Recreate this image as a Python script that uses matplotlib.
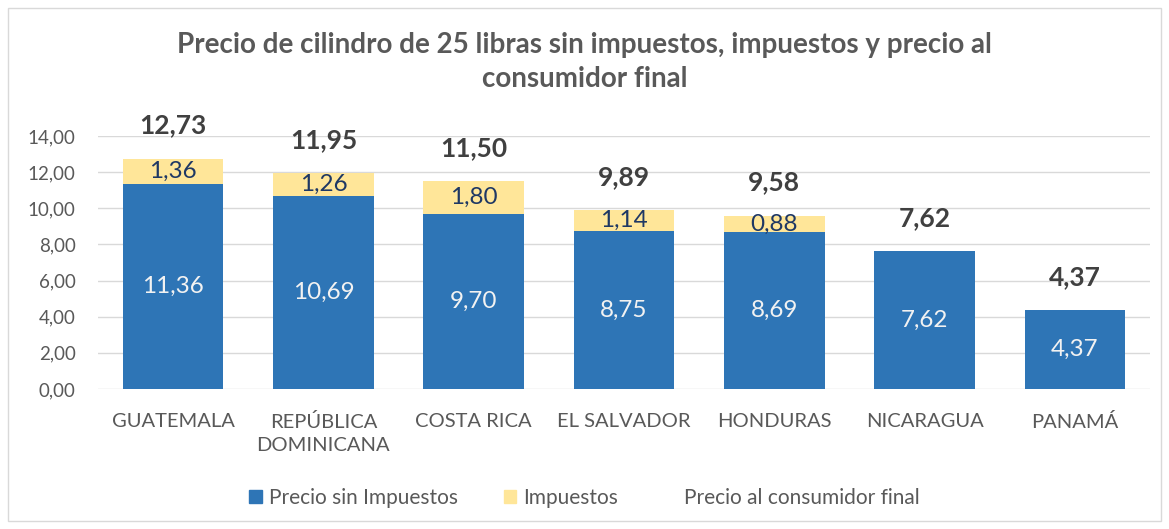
import numpy as np
import matplotlib.pyplot as plt
from matplotlib.patches import Patch, Rectangle

# chart data
countries = ["GUATEMALA", "REPÚBLICA\nDOMINICANA", "COSTA RICA", "EL SALVADOR",
             "HONDURAS", "NICARAGUA", "PANAMÁ"]
sin_impuestos = [11.36, 10.69, 9.70, 8.75, 8.69, 7.62, 4.37]
impuestos = [1.36, 1.26, 1.80, 1.14, 0.88, 0.0, 0.0]
precio_final = [12.73, 11.95, 11.50, 9.89, 9.58, 7.62, 4.37]
y_ticks = [0, 2, 4, 6, 8, 10, 12, 14]

BLUE = "#2E75B6"
YELLOW = "#FFE699"
GREY = "#595959"


def fmt(v):
    return f"{v:.2f}".replace(".", ",")


def main():
    plt.rcParams["font.family"] = ["Lato", "DejaVu Sans"]
    fig = plt.figure(figsize=(11.69, 5.29), dpi=100)
    fig.patches.append(Rectangle((0.007, 0.015), 0.986, 0.97, transform=fig.transFigure,
                                 fill=False, edgecolor="#D9D9D9", linewidth=1))
    ax = fig.add_axes([98 / 1169, 1 - 389 / 529, (1150 - 98) / 1169, (389 - 136) / 529])

    x = np.arange(len(countries))
    w = 0.67
    ax.bar(x, sin_impuestos, w, color=BLUE, zorder=2)
    ax.bar(x, impuestos, w, bottom=sin_impuestos, color=YELLOW, zorder=2)

    for i in range(len(x)):
        ax.text(x[i], sin_impuestos[i] / 2, fmt(sin_impuestos[i]), ha="center",
                va="center", color="#F2F2F2", fontsize=17.5)
        if impuestos[i] > 0:
            ax.text(x[i], sin_impuestos[i] + impuestos[i] / 2, fmt(impuestos[i]),
                    ha="center", va="center", color="#1F3864", fontsize=17.5)
        ax.annotate(fmt(precio_final[i]), (x[i], precio_final[i]), xytext=(0, 24),
                    textcoords="offset points", ha="center", va="center",
                    fontsize=19, fontweight="bold", color="#404040", annotation_clip=False)

    ax.set_ylim(0, 14)
    ax.set_xlim(-0.5, len(x) - 0.5)
    ax.set_yticks(y_ticks)
    ax.set_yticklabels([fmt(v) for v in y_ticks])
    ax.set_xticks(x)
    ax.set_xticklabels(countries, linespacing=1.45)
    ax.tick_params(axis="y", length=0, labelsize=13.5, colors=GREY, pad=16)
    ax.tick_params(axis="x", length=0, labelsize=14.5, colors=GREY, pad=17)
    ax.grid(axis="y", color="#D9D9D9", linewidth=1, zorder=0)
    for s in ax.spines.values():
        s.set_visible(False)

    handles = [Patch(color=BLUE), Patch(color=YELLOW), Patch(color="none")]
    labels = ["Precio sin Impuestos", "Impuestos", "Precio al consumidor final"]
    fig.legend(handles, labels, loc="center", bbox_to_anchor=(0.5, 1 - 498 / 529),
               ncol=3, frameon=False, fontsize=15, labelcolor=GREY,
               handlelength=0.6, handleheight=0.6, handletextpad=0.35, columnspacing=2.2)

    fig.text(0.5, 1 - 62 / 529,
             "Precio de cilindro de 25 libras sin impuestos, impuestos y precio al\nconsumidor final",
             ha="center", va="center", fontsize=20, fontweight="bold", color=GREY,
             linespacing=1.4)

    fig.savefig("out.png", dpi=100)


if __name__ == "__main__":
    main()
